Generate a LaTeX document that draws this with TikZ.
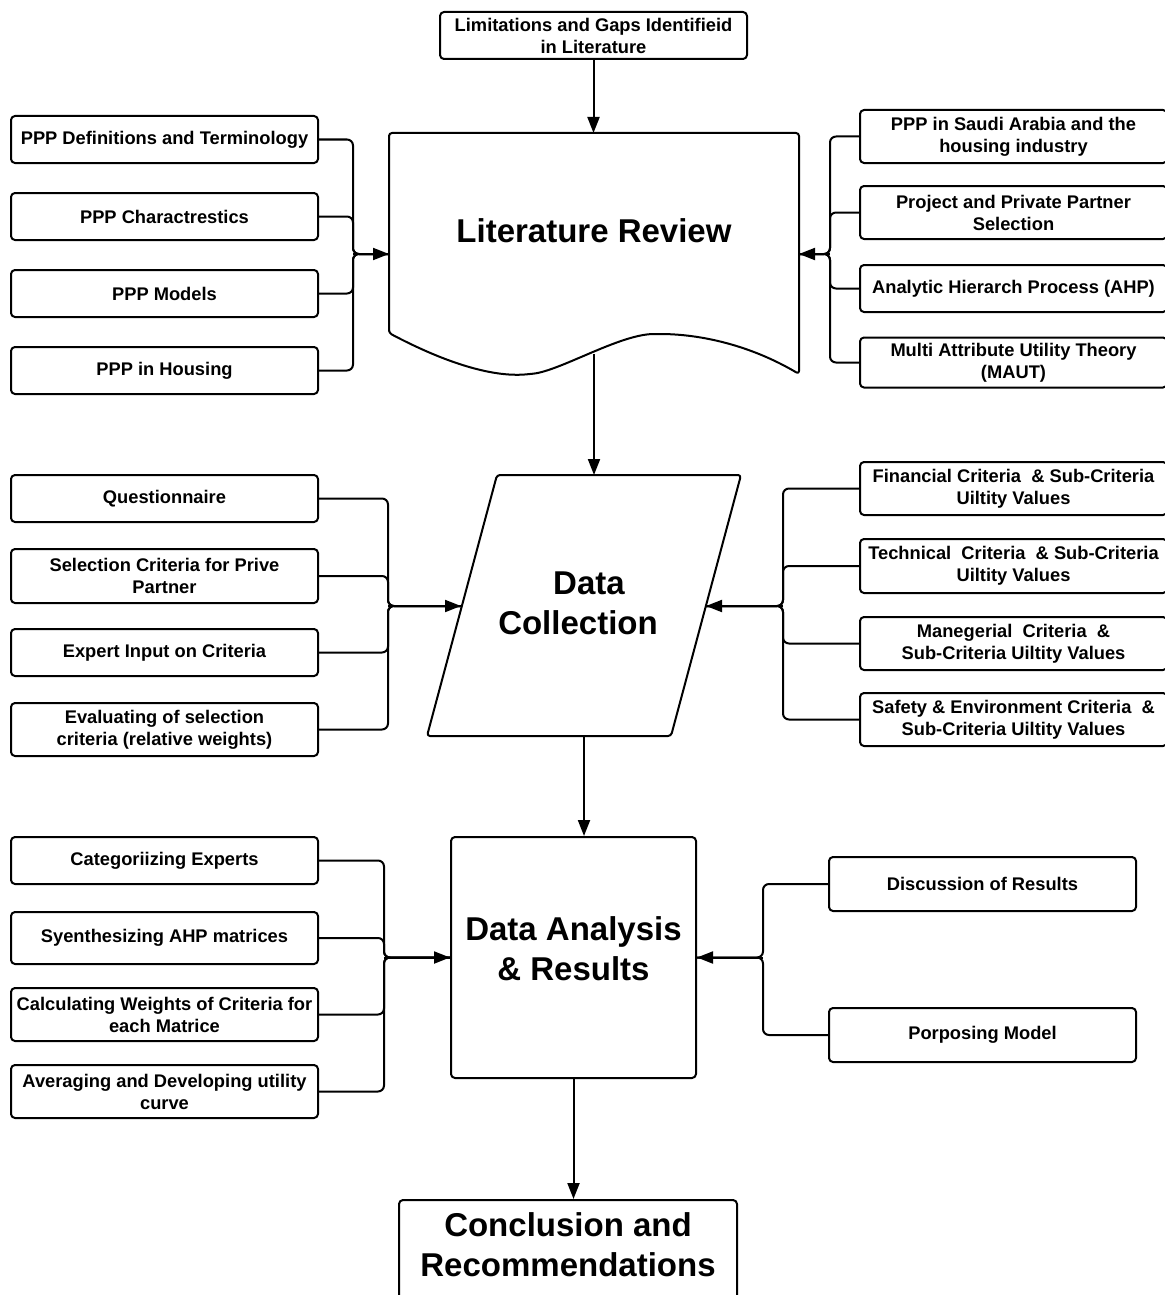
\documentclass[tikz,border=0pt]{standalone}
\usepackage{fontspec}
\setmainfont{Liberation Sans}
\usetikzlibrary{arrows.meta,calc}
\begin{document}
\begin{tikzpicture}[x=1pt,y=-1pt,
  line width=2pt, line join=round,
  sbox/.style={draw, fill=white, rounded corners=4pt, minimum width=307pt,
    minimum height=47pt, align=center, inner sep=2pt,
    font=\fontsize{18.3}{22}\selectfont\bfseries},
  bigtext/.style={align=center, font=\fontsize{33}{40}\selectfont\bfseries},
  conn/.style={draw, rounded corners=6pt},
  arrowto/.style={-{Triangle[length=16pt,width=12pt]}},
]
\useasboundingbox (0,0) rectangle (1164,1295);

% ---------- top input ----------
\node[sbox] (lim) at (593.5,35.5) {Limitations and Gaps Identifieid\\in Literature};

% ---------- Literature Review (document shape) ----------
\node[bigtext, minimum width=410pt, minimum height=200pt] (lit) at (594,231) {Literature Review};
\coordinate (litNW) at (389,133);
\coordinate (litNE) at (799,133);
\coordinate (litSW) at (389,333);
\coordinate (litSE) at (799,374);
\draw[rounded corners=3pt] (litSW) -- (litNW) -- (litNE) -- (litSE)
  .. controls (750,345) and (700,334) .. (657,334)
  .. controls (620,334) and (560,371) .. (530,374)
  .. controls (490,378) and (440,360) .. (litSW) -- cycle;
\coordinate (litL) at (389,254);
\coordinate (litR) at (799,254);
\coordinate (litB) at (594,354);

% ---------- Data Collection (parallelogram) ----------
\node[bigtext] (dc) at (578,603) {\hspace*{22pt}Data\\Collection};
\coordinate (dcTL) at (497,475);
\coordinate (dcTR) at (741,475);
\coordinate (dcBR) at (671,736);
\coordinate (dcBL) at (427,736);
\draw[rounded corners=3pt] (dcTL) -- (dcTR) -- (dcBR) -- (dcBL) -- cycle;
\coordinate (dcT) at (594,475);
\coordinate (dcL) at (461,606);
\coordinate (dcR) at (706,606);
\coordinate (dcB) at (584,736);

% ---------- Data Analysis ----------
\node[draw, rounded corners=4pt, bigtext, minimum width=245pt, minimum height=241pt,
  text depth=17pt] (da) at (573.5,957.5) {Data Analysis\\\& Results};

% ---------- Conclusion ----------
\node[draw, rounded corners=4pt, bigtext, minimum width=338pt, anchor=north,
  inner ysep=13pt, text depth=62pt] (concl) at (568,1199) {Conclusion and\\Recommendations};

% ---------- side inputs: Literature Review ----------
\node[sbox] (a1) at (164.5,139.5) {PPP Definitions and Terminology};
\node[sbox] (a2) at (164.5,216.5) {PPP Charactrestics};
\node[sbox] (a3) at (164.5,293.5) {PPP Models};
\node[sbox] (a4) at (164.5,370.5) {PPP in Housing};

\node[sbox, minimum height=53pt] (b1) at (1013.5,136.5) {PPP in Saudi Arabia and the\\housing industry};
\node[sbox, minimum height=53pt] (b2) at (1013.5,212.5) {Project and Private Partner\\Selection};
\node[sbox] (b3) at (1013.5,288.5) {Analytic Hierarch Process (AHP)};
\node[sbox, minimum height=50pt] (b4) at (1013.5,362.5) {Multi Attribute Utility Theory\\(MAUT)};

% ---------- side inputs: Data Collection ----------
\node[sbox] (c1) at (164.5,498.5) {Questionnaire};
\node[sbox, minimum height=54pt] (c2) at (164.5,576) {Selection Criteria for Prive\\Partner};
\node[sbox] (c3) at (164.5,652.5) {Expert Input on Criteria};
\node[sbox, minimum height=53pt] (c4) at (164.5,729.5) {Evaluating of selection\\criteria (relative weights)};

\node[sbox, minimum height=53pt] (d1) at (1013.5,488.5) {Financial Criteria\ \ \& Sub-Criteria\\Uiltity Values};
\node[sbox, minimum height=54pt] (d2) at (1013.5,566) {Technical\ \ Criteria\ \ \& Sub-Criteria\\Uiltity Values};
\node[sbox, minimum height=53pt] (d3) at (1013.5,643.5) {Manegerial\ \ Criteria\ \ \&\\Sub-Criteria Uiltity Values};
\node[sbox, minimum height=53pt] (d4) at (1013.5,719.5) {Safety \& Environment Criteria\ \ \&\\Sub-Criteria Uiltity Values};

% ---------- side inputs: Data Analysis ----------
\node[sbox] (e1) at (164.5,860.5) {Categoriizing Experts};
\node[sbox, minimum height=52pt] (e2) at (164.5,938) {Syenthesizing AHP matrices};
\node[sbox, minimum height=53pt] (e3) at (164.5,1014.5) {Calculating Weights of Criteria for\\each Matrice};
\node[sbox, minimum height=53pt] (e4) at (164.5,1091.5) {Averaging and Developing utility\\curve};

\node[sbox, minimum height=54pt] (f1) at (982.5,884) {Discussion of Results};
\node[sbox, minimum height=54pt] (f2) at (982.5,1035) {Porposing Model};

% ---------- bus junctions ----------
\coordinate (jA) at (353,254);
\coordinate (jB) at (830,254);
\coordinate (jC) at (388,606);
\coordinate (jD) at (783,606);
\coordinate (jE) at (384,957.5);
\coordinate (jF) at (763,957.5);

% ---------- main flow ----------
\draw[arrowto] (lim.south) -- (lim.south |- litNW);
\draw[arrowto] (litB) -- (dcT);
\draw[arrowto] (dcB) -- (dcB |- da.north);
\draw[arrowto] (da.south) -- (da.south |- concl.north);

% ---------- branch connectors ----------
\foreach \n in {a1,a2,a3,a4} \draw[conn] (\n.east) -| (jA) -- (litL);
\draw[arrowto] (jA) -- (litL);
\foreach \n in {b1,b2,b3,b4} \draw[conn] (\n.west) -| (jB) -- (litR);
\draw[arrowto] (jB) -- (litR);
\foreach \n in {c1,c2,c3,c4} \draw[conn] (\n.east) -| (jC) -- (dcL);
\draw[arrowto] (jC) -- (dcL);
\foreach \n in {d1,d2,d3,d4} \draw[conn] (\n.west) -| (jD) -- (dcR);
\draw[arrowto] (jD) -- (dcR);
\foreach \n in {e1,e2,e3,e4} \draw[conn] (\n.east) -| (jE) -- (da.west);
\draw[arrowto] (jE) -- (da.west);
\foreach \n in {f1,f2} \draw[conn] (\n.west) -| (jF) -- (da.east);
\draw[arrowto] (jF) -- (da.east);
\end{tikzpicture}
\end{document}
